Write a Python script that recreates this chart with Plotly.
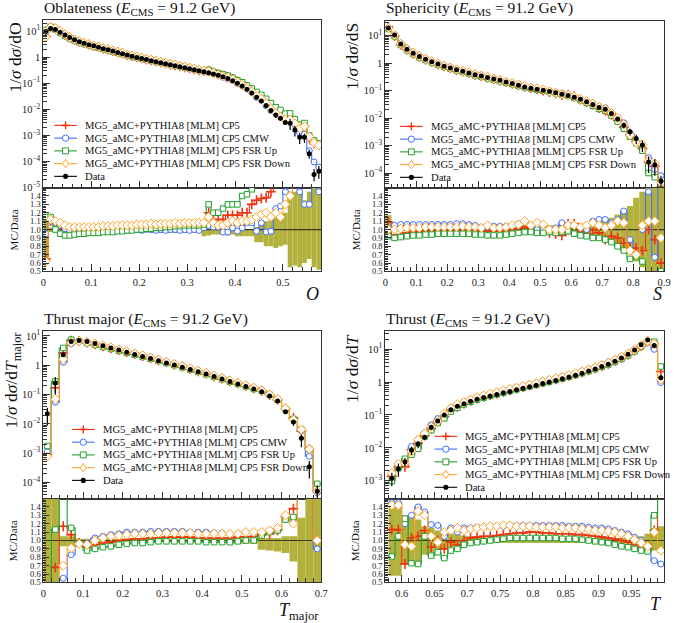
import numpy as np
import plotly.graph_objects as go

W, H = 677, 623
SERIF = "Liberation Serif"
OLIVE = "#b3b13e"
AXC = "#333333"

# ------------------------------------------------------------------ data
SERIES = ["MG5_aMC+PYTHIA8 [MLM] CP5", "MG5_aMC+PYTHIA8 [MLM] CP5 CMW",
          "MG5_aMC+PYTHIA8 [MLM] CP5 FSR Up", "MG5_aMC+PYTHIA8 [MLM] CP5 FSR Down"]
COLORS = ["#EE3311", "#3F6FFF", "#22A02E", "#FFA424"]

# Oblateness
obl_edges = np.round(np.arange(0.0, 0.5801, 0.01), 4)
obl_data = [9.5, 12.5, 11.5, 9.0, 7.0, 5.6, 4.6, 3.9, 3.4, 3.0,
            2.7, 2.4, 2.1, 1.9, 1.7, 1.5, 1.35, 1.2, 1.08, 0.97,
            0.88, 0.80, 0.73, 0.67, 0.61, 0.56, 0.51, 0.47, 0.43, 0.39,
            0.36, 0.33, 0.30, 0.275, 0.25, 0.225, 0.20, 0.175, 0.15, 0.125,
            0.10, 0.078, 0.058, 0.042, 0.029, 0.021, 0.014, 0.0090, 0.0060, 0.0045,
            0.0031, 0.0029, 0.0016, 0.00085, 0.00085, 0.00020, 0.000032, 0.000042]
obl_cp5 = [0.65, 1.10, 1.08, 1.05, 1.02, 1.00, 1.00, 1.00, 1.00, 1.00,
           1.00, 1.00, 1.01, 1.01, 1.01, 1.02, 1.02, 1.02, 1.02, 1.02,
           1.02, 1.03, 1.03, 1.02, 1.03, 1.03, 1.03, 1.03, 1.03, 1.03,
           1.03, 1.03, 1.04, 1.05, 1.20, 1.12, 1.12, 1.12, 1.17, 1.17,
           1.17, 1.20, 1.20, 1.30, 1.35, 1.37, 1.38, 1.45, 1.55, 1.60,
           1.70, 1.80, 2.00, 2.30, 2.60, 4.00, 15.0, 10.0]
obl_cmw = [0.95, 1.10, 1.08, 1.05, 1.01, 0.99, 0.99, 0.98, 0.98, 0.98,
           0.98, 0.99, 0.99, 0.99, 0.99, 0.99, 0.99, 0.99, 1.00, 1.00,
           0.99, 1.00, 1.00, 0.99, 1.00, 0.99, 1.00, 1.00, 0.99, 1.00,
           0.99, 1.00, 0.99, 1.02, 1.05, 1.03, 1.03, 0.97, 0.97, 1.02,
           0.98, 1.02, 1.08, 1.08, 0.98, 1.08, 0.97, 0.98, 1.25, 1.28,
           1.45, 1.60, 1.60, 1.45, 1.30, 1.30, 3.00, 1.45]
obl_up = [1.15, 1.15, 1.00, 0.95, 0.93, 0.93, 0.94, 0.95, 0.95, 0.96,
          0.96, 0.96, 0.97, 0.97, 0.97, 0.98, 0.98, 0.99, 0.99, 1.00,
          1.00, 1.01, 1.01, 1.02, 1.02, 1.03, 1.03, 1.04, 1.04, 1.05,
          1.05, 1.05, 1.05, 1.06, 1.30, 1.20, 1.20, 1.25, 1.30, 1.30,
          1.30, 1.40, 1.42, 1.48, 1.60, 1.70, 1.80, 1.90, 2.00, 2.10,
          2.20, 2.40, 2.60, 3.00, 3.50, 5.00, 20.0, 12.0]
obl_down = [0.62, 1.12, 1.10, 1.08, 1.05, 1.03, 1.03, 1.03, 1.03, 1.03,
            1.03, 1.03, 1.04, 1.04, 1.04, 1.05, 1.05, 1.05, 1.05, 1.06,
            1.06, 1.06, 1.07, 1.06, 1.07, 1.07, 1.07, 1.08, 1.07, 1.08,
            1.08, 1.08, 1.08, 1.08, 1.15, 1.08, 1.05, 1.05, 1.08, 1.10,
            1.08, 1.10, 1.10, 1.12, 1.15, 1.18, 1.20, 1.15, 1.20, 1.15,
            1.30, 1.40, 1.80, 2.20, 2.60, 4.50, 16.0, 10.0]
obl_band_lo = [0.62, 0.97, 0.97, 0.97, 0.97, 0.97, 0.97, 0.97, 0.97, 0.97,
               0.97, 0.97, 0.97, 0.97, 0.97, 0.97, 0.97, 0.97, 0.97, 0.97,
               0.97, 0.97, 0.96, 0.97, 0.96, 0.97, 0.96, 0.96, 0.96, 0.96,
               0.96, 0.96, 0.96, 0.92, 0.93, 0.94, 0.94, 0.94, 0.93, 0.94,
               0.92, 0.92, 0.92, 0.92, 0.85, 0.85, 0.80, 0.80, 0.78, 0.80,
               0.82, 0.55, 0.57, 0.55, 0.60, 0.65, 0.55, 0.52]
obl_band_hi = [1.15, 1.02, 1.01, 1.01, 1.01, 1.01, 1.01, 1.01, 1.01, 1.01,
               1.01, 1.01, 1.01, 1.01, 1.01, 1.01, 1.01, 1.01, 1.01, 1.01,
               1.01, 1.01, 1.01, 1.01, 1.01, 1.01, 1.01, 1.01, 1.01, 1.01,
               1.01, 1.01, 1.01, 1.00, 1.00, 1.00, 1.00, 1.00, 1.00, 1.00,
               1.00, 1.00, 1.00, 1.00, 1.03, 1.05, 1.10, 1.12, 1.14, 1.14,
               1.20, 1.45, 1.45, 1.45, 1.35, 1.45, 1.60, 1.60]

# Sphericity
sph_edges = np.round(np.arange(0.0, 0.9001, 0.02), 4)
sph_data = [19.0, 10.5, 5.0, 3.2, 2.3, 1.75, 1.38, 1.12, 0.92, 0.77,
            0.66, 0.57, 0.50, 0.44, 0.38, 0.34, 0.30, 0.265, 0.235, 0.205,
            0.18, 0.155, 0.135, 0.122, 0.112, 0.102, 0.092, 0.083, 0.074, 0.066,
            0.057, 0.048, 0.039, 0.031, 0.024, 0.021, 0.0145, 0.0093, 0.0055, 0.0032,
            0.0018, 0.00105, 0.00025, 0.00020, 0.00005]
sph_cp5 = [1.09, 0.93, 0.94, 0.96, 0.97, 0.97, 0.98, 0.98, 0.98, 0.99,
           0.99, 0.99, 1.00, 1.00, 0.99, 0.98, 0.98, 0.98, 0.98, 0.99,
           1.00, 1.01, 1.03, 1.01, 1.00, 0.98, 0.96, 0.95, 0.93, 1.07,
           1.07, 0.97, 0.95, 1.00, 0.96, 0.88, 0.92, 0.90, 0.84, 0.78,
           0.78, 0.75, 1.00, 0.88, 0.60]
sph_cmw = [1.00, 1.05, 1.06, 1.06, 1.06, 1.06, 1.06, 1.06, 1.06, 1.06,
           1.06, 1.07, 1.07, 1.06, 1.05, 1.03, 1.03, 1.04, 1.04, 1.04,
           1.05, 1.07, 1.10, 1.05, 1.00, 1.00, 1.00, 1.02, 1.08, 1.05,
           1.05, 1.02, 1.00, 1.10, 1.12, 1.12, 1.08, 1.12, 1.22, 0.88,
           0.70, 1.00, 1.45, 0.67, 1.60]
sph_up = [0.92, 0.90, 0.91, 0.92, 0.93, 0.93, 0.94, 0.94, 0.95, 0.95,
          0.95, 0.95, 0.95, 0.95, 0.94, 0.94, 0.93, 0.93, 0.93, 0.94,
          0.95, 0.96, 0.97, 0.97, 0.96, 0.96, 0.97, 0.96, 0.97, 0.98,
          0.95, 0.93, 0.92, 0.90, 0.90, 0.88, 0.85, 0.80, 0.75, 0.65,
          0.68, 0.62, 0.40, 0.35, 0.50]
sph_down = [1.00, 1.00, 1.01, 1.02, 1.02, 1.02, 1.03, 1.03, 1.03, 1.03,
            1.03, 1.03, 1.04, 1.03, 1.03, 1.02, 1.05, 1.02, 1.02, 1.03,
            1.05, 1.06, 1.10, 1.05, 1.08, 1.06, 1.00, 1.00, 1.00, 1.05,
            1.05, 1.03, 1.05, 1.08, 1.05, 1.02, 1.05, 1.10, 1.08, 0.75,
            0.70, 1.05, 1.10, 1.10, 0.90]
sph_band_lo = [0.90, 0.98, 0.98, 0.98, 0.98, 0.98, 0.98, 0.98, 0.98, 0.98,
               0.98, 0.98, 0.98, 0.98, 0.98, 0.98, 0.98, 0.97, 0.97, 0.97,
               0.97, 0.96, 0.95, 0.95, 0.95, 0.95, 0.95, 0.95, 0.94, 0.94,
               0.93, 0.93, 0.92, 0.92, 0.90, 0.88, 0.86, 0.82, 0.77, 0.72,
               0.62, 0.55, 0.40, 0.40, 0.40]
sph_band_hi = [1.17, 1.02, 1.02, 1.02, 1.02, 1.02, 1.02, 1.02, 1.02, 1.02,
               1.02, 1.02, 1.02, 1.02, 1.02, 1.02, 1.02, 1.03, 1.03, 1.03,
               1.03, 1.04, 1.05, 1.05, 1.05, 1.05, 1.05, 1.05, 1.06, 1.06,
               1.07, 1.07, 1.08, 1.08, 1.10, 1.12, 1.14, 1.18, 1.23, 1.28,
               1.38, 1.45, 1.60, 1.60, 1.60]

# Thrust major
tmj_edges = np.round(np.arange(0.0, 0.7001, 0.02), 4)
tmj_data = [0.022, 0.25, 2.3, 6.5, 7.0, 6.5, 5.5, 4.6, 3.9, 3.3,
            2.8, 2.35, 2.0, 1.7, 1.42, 1.2, 1.02, 0.86, 0.72, 0.60,
            0.50, 0.41, 0.34, 0.28, 0.23, 0.19, 0.155, 0.125, 0.09, 0.06,
            0.026, 0.0115, 0.0032, 0.00034, 0.00005]
tmj_cp5 = [0.04, 0.68, 1.17, 1.07, 0.97, 0.92, 0.95, 0.97, 0.98, 1.00,
           1.01, 1.02, 1.02, 1.03, 1.03, 1.04, 1.04, 1.04, 1.04, 1.03,
           1.03, 1.03, 1.03, 1.03, 1.04, 1.04, 1.05, 1.08, 1.08, 1.12,
           1.28, 1.38, 1.80, 4.00, 1.00]
tmj_cmw = [0.05, 0.22, 0.55, 0.83, 0.97, 0.97, 1.03, 1.05, 1.07, 1.08,
           1.10, 1.10, 1.10, 1.11, 1.11, 1.11, 1.11, 1.11, 1.10, 1.10,
           1.10, 1.09, 1.09, 1.08, 1.08, 1.10, 1.10, 1.10, 1.12, 1.15,
           1.25, 1.25, 1.80, 2.30, 0.90]
tmj_up = [0.08, 1.13, 1.70, 1.15, 0.96, 0.88, 0.90, 0.92, 0.93, 0.95,
          0.96, 0.97, 0.97, 0.98, 0.99, 0.99, 0.99, 0.99, 0.99, 0.99,
          0.98, 0.98, 0.98, 0.98, 0.99, 1.00, 1.00, 1.06, 1.10, 1.12,
          1.25, 1.28, 2.00, 4.00, 1.80]
tmj_down = [0.035, 0.28, 0.70, 0.91, 0.96, 0.95, 1.00, 1.03, 1.05, 1.06,
            1.07, 1.08, 1.08, 1.08, 1.09, 1.09, 1.09, 1.09, 1.09, 1.08,
            1.08, 1.08, 1.08, 1.08, 1.08, 1.10, 1.10, 1.10, 1.12, 1.15,
            1.30, 1.20, 2.00, 4.00, 1.00]
tmj_band_lo = [0.40, 0.40, 0.93, 0.93, 0.97, 0.98, 0.98, 0.98, 0.98, 0.98,
               0.98, 0.98, 0.98, 0.98, 0.98, 0.98, 0.97, 0.97, 0.97, 0.97,
               0.97, 0.97, 0.97, 0.96, 0.96, 0.96, 0.96, 0.89, 0.88, 0.87,
               0.85, 0.75, 0.50, 0.40, 0.40]
tmj_band_hi = [1.60, 1.60, 1.05, 1.05, 1.02, 1.02, 1.02, 1.02, 1.02, 1.02,
               1.02, 1.02, 1.02, 1.02, 1.02, 1.02, 1.02, 1.02, 1.02, 1.02,
               1.02, 1.02, 1.02, 1.02, 1.02, 1.02, 1.02, 1.03, 1.03, 1.03,
               1.05, 1.05, 1.27, 1.60, 1.60]

# Thrust
thr_edges = np.round(np.arange(0.58, 1.0001, 0.01), 4)
thr_data = [0.0012, 0.0023, 0.0037, 0.0085, 0.013, 0.021, 0.042, 0.066, 0.10, 0.145,
            0.185, 0.22, 0.26, 0.30, 0.34, 0.38, 0.42, 0.47, 0.52, 0.58,
            0.65, 0.72, 0.80, 0.90, 1.0, 1.12, 1.26, 1.42, 1.62, 1.85,
            2.15, 2.5, 2.95, 3.5, 4.3, 5.4, 7.0, 9.5, 13.5, 19.0,
            13.0, 1.35]
thr_cp5 = [1.13, 1.13, 0.72, 1.03, 1.05, 1.12, 0.92, 1.00, 0.90, 0.98,
           0.95, 1.00, 1.03, 1.04, 1.05, 1.05, 1.06, 1.07, 1.08, 1.09,
           1.09, 1.10, 1.10, 1.09, 1.09, 1.08, 1.08, 1.08, 1.07, 1.07,
           1.06, 1.05, 1.04, 1.03, 1.02, 1.00, 0.98, 0.95, 0.92, 0.90,
           1.12, 1.55]
thr_cmw = [1.45, 1.45, 1.20, 1.30, 1.40, 1.34, 1.19, 1.18, 1.05, 1.15,
           1.10, 1.15, 1.15, 1.16, 1.16, 1.17, 1.17, 1.17, 1.18, 1.18,
           1.18, 1.18, 1.18, 1.18, 1.18, 1.18, 1.18, 1.17, 1.17, 1.17,
           1.16, 1.15, 1.15, 1.14, 1.12, 1.10, 1.08, 1.04, 1.00, 0.92,
           0.76, 0.72]
thr_up = [0.81, 1.05, 1.26, 0.73, 0.72, 1.05, 0.82, 0.86, 0.79, 0.88,
          0.90, 0.95, 0.97, 0.98, 0.99, 1.00, 1.01, 1.02, 1.03, 1.03,
          1.03, 1.03, 1.03, 1.03, 1.03, 1.03, 1.02, 1.02, 1.02, 1.01,
          1.00, 0.99, 0.98, 0.97, 0.95, 0.93, 0.92, 0.90, 0.88, 0.87,
          1.30, 2.20]
thr_down = [1.42, 1.42, 0.95, 0.93, 1.35, 1.30, 1.05, 0.98, 1.10, 1.12,
            1.15, 1.12, 1.14, 1.15, 1.16, 1.17, 1.17, 1.18, 1.18, 1.17,
            1.17, 1.17, 1.16, 1.16, 1.16, 1.16, 1.15, 1.15, 1.15, 1.14,
            1.13, 1.12, 1.12, 1.11, 1.10, 1.08, 1.05, 1.01, 0.97, 0.93,
            1.10, 0.88]
thr_band_lo = [0.58, 0.58, 0.72, 0.72, 0.75, 0.83, 0.85, 0.88, 0.90, 0.92,
               0.93, 0.94, 0.95, 0.96, 0.96, 0.97, 0.97, 0.97, 0.97, 0.97,
               0.97, 0.97, 0.97, 0.97, 0.97, 0.97, 0.97, 0.97, 0.97, 0.97,
               0.97, 0.97, 0.97, 0.97, 0.97, 0.97, 0.96, 0.95, 0.95, 0.92,
               0.88, 0.85]
thr_band_hi = [1.45, 1.45, 1.30, 1.28, 1.25, 1.17, 1.15, 1.12, 1.10, 1.08,
               1.07, 1.06, 1.05, 1.04, 1.04, 1.03, 1.03, 1.03, 1.03, 1.03,
               1.03, 1.03, 1.03, 1.03, 1.03, 1.03, 1.03, 1.03, 1.03, 1.03,
               1.03, 1.03, 1.03, 1.03, 1.03, 1.03, 1.04, 1.05, 1.05, 1.08,
               1.15, 1.17]

obl_xticks = ["0", "0.1", "0.2", "0.3", "0.4", "0.5"]
sph_xticks = ["0", "0.1", "0.2", "0.3", "0.4", "0.5", "0.6", "0.7", "0.8", "0.9"]
tmj_xticks = ["0", "0.1", "0.2", "0.3", "0.4", "0.5", "0.6", "0.7"]
thr_xticks = ["0.6", "0.65", "0.7", "0.75", "0.8", "0.85", "0.9", "0.95"]
ratio_yticks = ["0.5", "0.6", "0.7", "0.8", "0.9", "1.0", "1.1", "1.2", "1.3", "1.4"]

# ------------------------------------------------------------------ panel layout (pixels)
panels = [
    dict(edges=obl_edges, data=obl_data, mc=[obl_cp5, obl_cmw, obl_up, obl_down],
         lo=obl_band_lo, hi=obl_band_hi, xt=obl_xticks, xminor=0.02,
         x0=41, x1=323, yt=18, ym=188, yb=273, xr=[0, 0.58], ylog=[-5, 1.43], dec=range(-5, 2),
         title="Oblateness (<i>E</i><sub>CMS</sub> = 91.2 GeV)", ty=7,
         ylab="1/<i>σ</i> d<i>σ</i>/dO", ylx=12, yly=19,
         xlab="<i>O</i>", xlx=323, xly=296, leg=(52, 125), rlx=11),
    dict(edges=sph_edges, data=sph_data, mc=[sph_cp5, sph_cmw, sph_up, sph_down],
         lo=sph_band_lo, hi=sph_band_hi, xt=sph_xticks, xminor=0.02,
         x0=388, x1=671, yt=19, ym=188, yb=273, xr=[0, 0.9], ylog=[-4.53, 1.54], dec=range(-4, 2),
         title="Sphericity (<i>E</i><sub>CMS</sub> = 91.2 GeV)", ty=7,
         ylab="1/<i>σ</i> d<i>σ</i>/dS", ylx=354, yly=19,
         xlab="<i>S</i>", xlx=671, xly=296, leg=(403, 126), rlx=358),
    dict(edges=tmj_edges, data=tmj_data, mc=[tmj_cp5, tmj_cmw, tmj_up, tmj_down],
         lo=tmj_band_lo, hi=tmj_band_hi, xt=tmj_xticks, xminor=0.02,
         x0=41, x1=323, yt=333, ym=503, yb=588, xr=[0, 0.7], ylog=[-4.55, 1.18], dec=range(-4, 2),
         title="Thrust major (<i>E</i><sub>CMS</sub> = 91.2 GeV)", ty=322,
         ylab="1/<i>σ</i> d<i>σ</i>/d<i>T</i><sub>major</sub>", ylx=10, yly=333,
         xlab="<i>T</i><sub>major</sub>", xlx=323, xly=617, leg=(70, 433), rlx=11),
    dict(edges=thr_edges, data=thr_data, mc=[thr_cp5, thr_cmw, thr_up, thr_down],
         lo=thr_band_lo, hi=thr_band_hi, xt=thr_xticks, xminor=0.01,
         x0=388, x1=671, yt=333, ym=503, yb=588, xr=[0.575, 1.0], ylog=[-3.54, 1.56], dec=range(-3, 2),
         title="Thrust (<i>E</i><sub>CMS</sub> = 91.2 GeV)", ty=322,
         ylab="1/<i>σ</i> d<i>σ</i>/d<i>T</i>", ylx=354, yly=334,
         xlab="<i>T</i>", xlx=671, xly=610, leg=(438, 440), rlx=358),
]


def PX(px):
    return px / W


def PY(py):
    return 1 - py / H


fig = go.Figure()
layout = dict(width=W, height=H, margin=dict(l=0, r=0, t=0, b=0), autosize=False,
              paper_bgcolor="white", plot_bgcolor="white", showlegend=False,
              font=dict(family=SERIF, color="#111"))
shapes, annotations = [], []

minor_log = [m * 10.0 ** k for k in range(-6, 3) for m in range(2, 10)]


def marker_style(i):
    c = COLORS[i]
    if i == 0:
        return dict(symbol="cross-thin", size=7, color=c, line=dict(color=c, width=1.6))
    sym = ["circle", "circle", "square", "diamond"][i]
    size = [6, 6, 5.5, 7][i]
    return dict(symbol=sym, size=size, color="white", line=dict(color=c, width=1))


for k, p in enumerate(panels):
    nm, nr = 2 * k + 1, 2 * k + 2
    xm = "x" if nm == 1 else f"x{nm}"
    ym = "y" if nm == 1 else f"y{nm}"
    xr_, yr_ = f"x{nr}", f"y{nr}"
    edges = np.asarray(p["edges"], dtype=float)
    cen = (edges[:-1] + edges[1:]) / 2
    wid = edges[1:] - edges[:-1]
    data = np.asarray(p["data"], dtype=float)
    lo = np.asarray(p["lo"], dtype=float)
    hi = np.asarray(p["hi"], dtype=float)
    for arr in p["mc"] + [lo, hi]:
        assert len(arr) == len(data) == len(cen), (k, len(arr), len(data), len(cen))

    xdom = [PX(p["x0"]), PX(p["x1"])]
    tickvals_x = [float(t) for t in p["xt"]]
    common_x = dict(domain=xdom, range=p["xr"], showline=True, linecolor=AXC, linewidth=1,
                    mirror=True, ticks="inside", ticklen=7, tickwidth=1, tickcolor=AXC,
                    tickmode="array", tickvals=tickvals_x, ticktext=p["xt"], showgrid=False,
                    zeroline=False,
                    minor=dict(ticks="inside", ticklen=4, tickwidth=1, tickcolor=AXC,
                               dtick=p["xminor"], tick0=0, showgrid=False),
                    tickfont=dict(family=SERIF, size=10.5, color="#222"))
    layout["xaxis" if nm == 1 else f"xaxis{nm}"] = dict(common_x, anchor=ym, showticklabels=False)
    layout[f"xaxis{nr}"] = dict(common_x, anchor=yr_, showticklabels=True, ticklabelstandoff=1)

    dec = list(p["dec"])
    ytv = [10.0 ** d for d in dec]
    ytt = ["1" if d == 0 else ("10<sup>%s</sup>" % (("−%d" % -d) if d < 0 else str(d))) for d in dec]
    layout["yaxis" if nm == 1 else f"yaxis{nm}"] = dict(
        domain=[PY(p["ym"]), PY(p["yt"])], anchor=xm, type="log", range=p["ylog"],
        showline=True, linecolor=AXC, linewidth=1, mirror=True, ticks="inside", ticklen=7,
        tickcolor=AXC, tickmode="array", tickvals=ytv, ticktext=ytt, showgrid=False, zeroline=False,
        minor=dict(ticks="inside", ticklen=3.5, tickcolor=AXC, tickmode="array",
                   tickvals=minor_log, showgrid=False),
        tickfont=dict(family=SERIF, size=10.5, color="#222"))
    layout[f"yaxis{nr}"] = dict(
        domain=[PY(p["yb"]), PY(p["ym"])], anchor=xr_, range=[0.5, 1.5],
        showline=True, linecolor=AXC, linewidth=1, mirror=True, ticks="inside", ticklen=6,
        tickcolor=AXC, tickmode="array", tickvals=[float(t) for t in ratio_yticks],
        ticktext=ratio_yticks, showgrid=False, zeroline=False,
        minor=dict(ticks="inside", ticklen=3, tickcolor=AXC, dtick=0.02, tick0=0.5, showgrid=False),
        tickfont=dict(family=SERIF, size=8.5, color="#222"))

    # ---------- ratio band and unity line
    fig.add_trace(go.Bar(x=cen, y=hi - lo, base=lo, width=wid, xaxis=xr_, yaxis=yr_,
                         marker=dict(color=OLIVE, line=dict(width=0)), hoverinfo="skip"))
    fig.add_trace(go.Scatter(x=p["xr"], y=[1, 1], mode="lines", xaxis=xr_, yaxis=yr_,
                             line=dict(color="#3a3a20", width=1.2), hoverinfo="skip"))

    # ---------- MC series
    for i, r in enumerate(p["mc"]):
        r = np.asarray(r, dtype=float)
        c = COLORS[i]
        mc = data * r
        fig.add_trace(go.Scatter(x=edges, y=list(mc) + [mc[-1]], mode="lines", line_shape="hv",
                                 line=dict(color=c, width=1.1), xaxis=xm, yaxis=ym))
        fig.add_trace(go.Scatter(x=cen, y=mc, mode="markers", marker=marker_style(i),
                                 xaxis=xm, yaxis=ym))
        fig.add_trace(go.Scatter(x=edges, y=list(r) + [r[-1]], mode="lines", line_shape="hv",
                                 line=dict(color=c, width=1.1), xaxis=xr_, yaxis=yr_))
        fig.add_trace(go.Scatter(x=cen, y=r, mode="markers", marker=marker_style(i),
                                 xaxis=xr_, yaxis=yr_))

    # ---------- data
    fig.add_trace(go.Scatter(
        x=cen, y=data, mode="markers", xaxis=xm, yaxis=ym,
        marker=dict(symbol="circle", size=5, color="black"),
        error_y=dict(type="data", array=data * (hi - 1), arrayminus=data * (1 - lo),
                     color="black", thickness=1.2, width=0)))

    # ---------- text
    annotations.append(dict(xref="paper", yref="paper", x=PX(p["x0"] - 1), y=PY(p["ty"]),
                            xanchor="left", yanchor="middle", showarrow=False, text=p["title"],
                            font=dict(family=SERIF, size=15.5, color="#111")))
    annotations.append(dict(xref="paper", yref="paper", x=PX(p["ylx"]), y=PY(p["yly"]),
                            xanchor="center", yanchor="top", showarrow=False, textangle=-90,
                            text=p["ylab"], font=dict(family=SERIF, size=17.5, color="#111")))
    annotations.append(dict(xref="paper", yref="paper", x=PX(p["rlx"]),
                            y=PY((p["ym"] + p["yb"]) / 2), xanchor="center", yanchor="middle",
                            showarrow=False, textangle=-90, text="MC/Data",
                            font=dict(family=SERIF, size=11, color="#111")))
    annotations.append(dict(xref="paper", yref="paper", x=PX(p["xlx"]), y=PY(p["xly"]),
                            xanchor="right", yanchor="middle", showarrow=False, text=p["xlab"],
                            font=dict(family=SERIF, size=18, color="#111")))

    # ---------- legend (drawn as decorations)
    lx, ly0 = p["leg"]
    dy = 12.9
    labels = SERIES + ["Data"]
    for j, lab in enumerate(labels):
        yy = ly0 + j * dy
        col = COLORS[j] if j < 4 else "black"
        shapes.append(dict(type="line", xref="paper", yref="paper", x0=PX(lx), x1=PX(lx + 23),
                           y0=PY(yy), y1=PY(yy), line=dict(color=col, width=1.1)))
        cx = lx + 11.5
        if j == 0:
            shapes.append(dict(type="line", xref="paper", yref="paper", x0=PX(cx), x1=PX(cx),
                               y0=PY(yy - 4), y1=PY(yy + 4), line=dict(color=col, width=1.4)))
            shapes.append(dict(type="line", xref="paper", yref="paper", x0=PX(cx - 4), x1=PX(cx + 4),
                               y0=PY(yy), y1=PY(yy), line=dict(color=col, width=1.6)))
        elif j == 1:
            shapes.append(dict(type="circle", xref="paper", yref="paper", x0=PX(cx - 3.2),
                               x1=PX(cx + 3.2), y0=PY(yy - 3.2), y1=PY(yy + 3.2),
                               fillcolor="white", line=dict(color=col, width=1)))
        elif j == 2:
            shapes.append(dict(type="rect", xref="paper", yref="paper", x0=PX(cx - 3),
                               x1=PX(cx + 3), y0=PY(yy - 3), y1=PY(yy + 3),
                               fillcolor="white", line=dict(color=col, width=1)))
        elif j == 3:
            path = "M %f %f L %f %f L %f %f L %f %f Z" % (
                PX(cx), PY(yy - 4.2), PX(cx + 3.2), PY(yy), PX(cx), PY(yy + 4.2), PX(cx - 3.2), PY(yy))
            shapes.append(dict(type="path", xref="paper", yref="paper", path=path,
                               fillcolor="white", line=dict(color=col, width=1)))
        else:
            shapes.append(dict(type="circle", xref="paper", yref="paper", x0=PX(cx - 2.6),
                               x1=PX(cx + 2.6), y0=PY(yy - 2.6), y1=PY(yy + 2.6),
                               fillcolor="black", line=dict(color="black", width=0)))
        annotations.append(dict(xref="paper", yref="paper", x=PX(lx + 29), y=PY(yy),
                                xanchor="left", yanchor="middle", showarrow=False, text=lab,
                                font=dict(family=SERIF, size=10.6, color="#111")))

layout["shapes"] = shapes
layout["annotations"] = annotations
fig.update_layout(**layout)
fig.update_traces(hoverinfo="skip", selector=dict(type="scatter"))
fig.write_html("out.html", config={"displayModeBar": False, "staticPlot": True},
               post_script="document.body.style.margin='0px';document.body.style.padding='0px';"
                           "document.body.style.overflow='hidden';")
